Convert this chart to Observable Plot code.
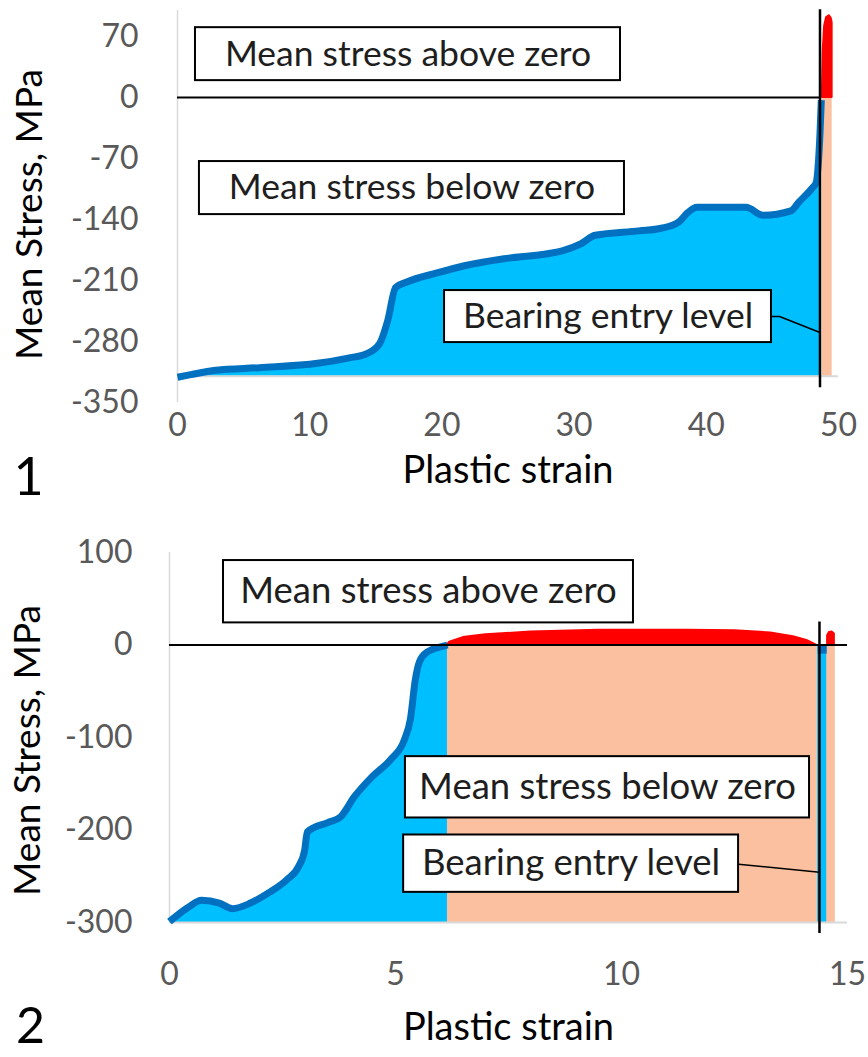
<!DOCTYPE html>
<html><head><meta charset="utf-8">
<script src="https://cdn.jsdelivr.net/npm/d3@7"></script>
<script src="https://cdn.jsdelivr.net/npm/@observablehq/plot@0.6"></script>
<style>
body{margin:0;background:#fff;width:868px;height:1057px;overflow:hidden;position:relative}
#c1{position:absolute;left:0;top:0}
#c2{position:absolute;left:0;top:520px}
</style></head><body><div id="c1"></div><div id="c2"></div>
<script>
// ---------- Chart 1 data ----------
const xTicks1 = [0, 10, 20, 30, 40, 50];
const yTicks1 = [-350, -280, -210, -140, -70, 0, 70];
const strain1 = [0, 1, 2.9, 6.2, 10.6, 12.9, 14.3, 15.3, 15.9, 16.5, 17.3, 19.7, 21.7, 24.7, 28.1, 29.1, 30.5, 31.6, 34.9, 36.6, 37.9, 38.6, 39.3, 43.0, 44.3, 46.4, 47.0, 48.0, 48.3, 48.6, 48.7];
const stress1 = [-321, -318, -313, -310, -305, -299, -294, -282, -256, -218, -212, -201, -193, -185, -179, -176, -168, -158, -153, -150, -143, -132, -126, -126, -135, -130, -120, -104, -98, -41, -3];
const redStrain1 = [48.77, 48.85, 48.95, 49.1, 49.3, 49.45, 49.52];
const redStress1 = [0, 55, 82, 92, 94, 91, 86];
const peachStart1 = 48.77, peachEnd1 = 49.52;
const axisCross1 = -320;
const bearing1 = 48.6;

// ---------- Chart 2 data ----------
const xTicks2 = [0, 5, 10, 15];
const yTicks2 = [-300, -200, -100, 0, 100];
const strain2 = [0, 0.4, 0.71, 1.1, 1.39, 1.79, 2.19, 2.59, 2.85, 2.99, 3.05, 3.5, 3.78, 4.09, 4.49, 4.89, 5.2, 5.33, 5.44, 5.53, 5.69, 6.08, 6.15];
const stress2 = [-299, -284, -276, -279, -285, -279, -268, -254, -240, -222, -202, -192, -186, -164, -142, -124, -102, -80, -37, -18, -8, -1, 0];
const redStrain2 = [6.15, 6.2, 6.5, 7.0, 8.0, 9.5, 11.5, 12.5, 13.3, 13.8, 14.1, 14.3];
const redStress2 = [0, 3, 8, 11, 14, 16, 16, 15.5, 13, 9, 5, 0];
const spikeStrain2 = [14.56, 14.6, 14.66, 14.71];
const spikeStress2 = [10, 13.5, 14, 12];
const peachStart2 = 6.15, peachEnd2 = 14.73;
const stripeStart2 = 14.34, stripeEnd2 = 14.54;
const axisCross2 = -300;
const bearing2 = 14.38;

const labels = ["Mean stress above zero", "Mean stress below zero", "Bearing entry level"];

const zip = (xs, ys) => xs.map((x, i) => ({x, y: ys[i]}));

const BLUE_FILL = "#00BFFF", BLUE_LINE = "#0070C0", PEACH = "#FBC0A0", RED = "#FF0000", GRID = "#D9D9D9", TXT = "#1e1e1e";

// annotation layout (data coordinates)
const boxes1 = [
  {label: labels[0], x1: 1.36, x2: 33.51, y1: 19.5, y2: 80.3},
  {label: labels[1], x1: 1.66, x2: 33.81, y1: -134.3, y2: -73.4},
  {label: labels[2], x1: 20.2, x2: 44.93, y1: -281.2, y2: -221.5}
];
const leader1 = [{x: 44.93, y: -251.3}, {x: 45.54, y: -251.3}, {x: bearing1, y: -269.7}];
const boxes2 = [
  {label: labels[0], x1: 1.195, x2: 10.265, y1: 23.9, y2: 91.3},
  {label: labels[1], x1: 5.22, x2: 14.16, y1: -187.0, y2: -120.7},
  {label: labels[2], x1: 5.18, x2: 12.59, y1: -267.4, y2: -205.4}
];
const leader2 = [{x: 12.59, y: -237}, {x: bearing2, y: -245.7}];

function boxMarks(boxes, fs) {
  return [
    Plot.rect(boxes, {x1: "x1", x2: "x2", y1: "y1", y2: "y2", fill: "white", stroke: "black", strokeWidth: 2}),
    Plot.text(boxes, {x: d => (d.x1 + d.x2) / 2, y: d => (d.y1 + d.y2) / 2, text: "label", fontSize: fs, fill: TXT, lineAnchor: "middle"})
  ];
}

const common = {
  width: 868,
  style: {fontFamily: "Lato, sans-serif", fontSize: "32px", color: "#595959", background: "white", overflow: "visible"}
};

const c1 = Plot.plot({
  ...common,
  height: 500, marginLeft: 177, marginRight: 30, marginTop: 10, marginBottom: 98,
  x: {domain: [0, 50]}, y: {domain: [-350, 100]},
  marks: [
    Plot.areaY(zip(strain1, stress1), {x: "x", y1: axisCross1, y2: "y", fill: BLUE_FILL}),
    Plot.rect([{x1: peachStart1, x2: peachEnd1}], {x1: "x1", x2: "x2", y1: 0, y2: axisCross1, fill: PEACH}),
    Plot.areaY(zip(redStrain1, redStress1), {x: "x", y1: 0, y2: "y", fill: RED, stroke: RED, strokeWidth: 2, strokeLinejoin: "round"}),
    Plot.ruleX([0], {y1: -350, y2: 100, stroke: GRID, strokeWidth: 1.5}),
    Plot.ruleY([axisCross1], {x1: 0, x2: 50, stroke: GRID, strokeWidth: 2}),
    Plot.line(zip(strain1, stress1), {x: "x", y: "y", stroke: BLUE_LINE, strokeWidth: 7, strokeLinejoin: "round", strokeLinecap: "butt", curve: "monotone-x"}),
    Plot.ruleY([0], {x1: 0, x2: bearing1, stroke: "black", strokeWidth: 2}),
    Plot.ruleX([bearing1], {y1: -333, y2: 101, stroke: "black", strokeWidth: 2.5}),
    ...boxMarks(boxes1, 35.5),
    Plot.line(leader1, {x: "x", y: "y", stroke: "black", strokeWidth: 1.5}),
    Plot.axisY({ticks: yTicks1, tickFormat: d => String(d), tickSize: 0, tickPadding: 39, anchor: "left", label: null}),
    Plot.axisX({ticks: xTicks1, tickFormat: d => String(d), tickSize: 0, tickPadding: 11, anchor: "bottom", label: null}),
    Plot.text(["Mean Stress, MPa"], {text: d => d, frameAnchor: "left", dx: -147, dy: 8, rotate: -90, fontSize: 37, fill: "black", textAnchor: "middle", lineAnchor: "middle"}),
    Plot.text(["Plastic strain"], {text: d => d, frameAnchor: "bottom", dy: 68, fontSize: 38, fill: "black", textAnchor: "middle", lineAnchor: "middle"}),
    Plot.text(["1"], {text: d => d, frameAnchor: "bottom-left", dx: -149, dy: 76, fontSize: 52, fill: "black", lineAnchor: "middle", textAnchor: "middle"})
  ]
});

const c2 = Plot.plot({
  ...common,
  height: 537, marginLeft: 169, marginRight: 21, marginTop: 32, marginBottom: 135,
  x: {domain: [0, 15]}, y: {domain: [-300, 100]},
  marks: [
    Plot.areaY(zip(strain2, stress2), {x: "x", y1: axisCross2, y2: "y", fill: BLUE_FILL}),
    Plot.rect([{x1: peachStart2, x2: peachEnd2}], {x1: "x1", x2: "x2", y1: 0, y2: axisCross2, fill: PEACH}),
    Plot.rect([{x1: stripeStart2, x2: stripeEnd2}], {x1: "x1", x2: "x2", y1: 0, y2: axisCross2, fill: BLUE_FILL}),
    Plot.areaY(zip(redStrain2, redStress2), {x: "x", y1: 0, y2: "y", fill: RED, stroke: RED, strokeWidth: 2, strokeLinejoin: "round"}),
    Plot.areaY(zip(spikeStrain2, spikeStress2), {x: "x", y1: 0, y2: "y", fill: RED, stroke: RED, strokeWidth: 2, strokeLinejoin: "round"}),
    Plot.ruleX([0], {y1: -300, y2: 100, stroke: GRID, strokeWidth: 1.5}),
    Plot.ruleY([axisCross2], {x1: 0, x2: 15, stroke: GRID, strokeWidth: 2}),
    Plot.line(zip(strain2, stress2), {x: "x", y: "y", stroke: BLUE_LINE, strokeWidth: 7, strokeLinejoin: "round", strokeLinecap: "butt", curve: "monotone-x"}),
    Plot.line([{x: stripeStart2, y: -5}, {x: stripeEnd2, y: -5}], {x: "x", y: "y", stroke: BLUE_LINE, strokeWidth: 8, strokeLinecap: "butt"}),
    Plot.ruleY([0], {x1: 0, x2: 15, stroke: "black", strokeWidth: 2}),
    Plot.ruleX([bearing2], {y1: -312, y2: 25, stroke: "black", strokeWidth: 2.5}),
    ...boxMarks(boxes2, 36.5),
    Plot.line(leader2, {x: "x", y: "y", stroke: "black", strokeWidth: 1.5}),
    Plot.axisY({ticks: yTicks2, tickFormat: d => String(d), tickSize: 0, tickPadding: 37, anchor: "left", label: null}),
    Plot.axisX({ticks: xTicks2, tickFormat: d => String(d), tickSize: 0, tickPadding: 40, anchor: "bottom", label: null}),
    Plot.text(["Mean Stress, MPa"], {text: d => d, frameAnchor: "left", dx: -141, dy: 13, rotate: -90, fontSize: 37, fill: "black", textAnchor: "middle", lineAnchor: "middle"}),
    Plot.text(["Plastic strain"], {text: d => d, frameAnchor: "bottom", dy: 105, fontSize: 38, fill: "black", textAnchor: "middle", lineAnchor: "middle"}),
    Plot.text(["2"], {text: d => d, frameAnchor: "bottom-left", dx: -139, dy: 104, fontSize: 50, fill: "black", lineAnchor: "middle", textAnchor: "middle"})
  ]
});

document.getElementById("c1").appendChild(c1);
document.getElementById("c2").appendChild(c2);
</script></body></html>
